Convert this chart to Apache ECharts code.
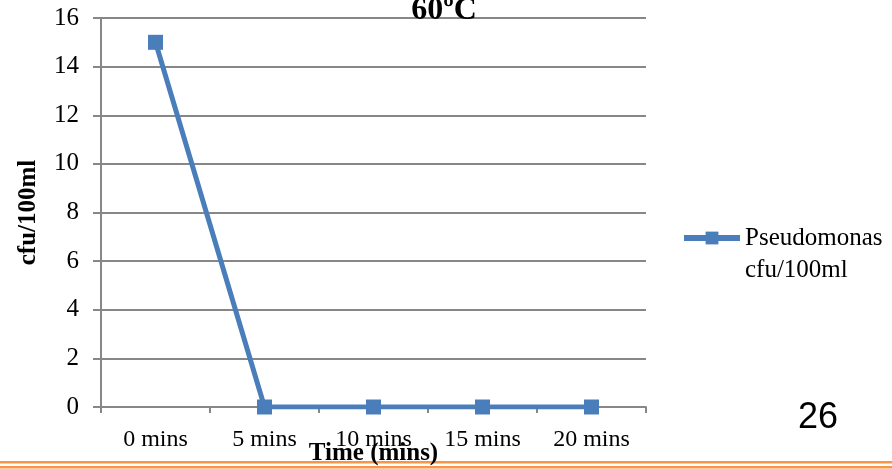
<!DOCTYPE html>
<html>
<head>
<meta charset="utf-8">
<script src="https://cdn.jsdelivr.net/npm/echarts@6/dist/echarts.min.js"></script>
<style>
html,body{margin:0;padding:0;background:#fff;}
#chart{width:892px;height:469px;}
</style>
</head>
<body>
<div id="chart"></div>
<script>
const categories = ["0 mins", "5 mins", "10 mins", "15 mins", "20 mins"];
const pseudomonas = [15, 0, 0, 0, 0];
const yTicks = { min: 0, max: 16, interval: 2 };
const titleText = "60ºC";
const seriesName = "Pseudomonas cfu/100ml";
const legendLines = ["Pseudomonas", "cfu/100ml"];
const pageNumber = "26";

const serif = "'Liberation Serif', 'DejaVu Serif', serif";
const gridColor = "#878787";
const lineColor = "#4a7ebb";
const chart = echarts.init(document.getElementById('chart'), null, { renderer: 'canvas' });
chart.setOption({
  animation: false,
  backgroundColor: '#ffffff',
  title: {
    text: titleText,
    left: 444, top: -5, padding: 0,
    textAlign: 'center',
    textStyle: { fontFamily: serif, fontWeight: 'bold', fontSize: 32, color: '#000' }
  },
  legend: {
    left: 681, top: 190, padding: 0,
    itemWidth: 56, itemHeight: 16, itemGap: 10,
    data: [seriesName],
    lineStyle: { width: 6 },
    formatter: function () { return ' \n' + legendLines.join('\n'); },
    textStyle: { fontFamily: serif, fontSize: 25, color: '#000', lineHeight: 32 }
  },
  grid: { left: 101, right: 246, top: 18, bottom: 62, outerBoundsMode: 'none', containLabel: false },
  xAxis: {
    type: 'category',
    data: categories,
    boundaryGap: true,
    name: 'Time (mins)',
    nameLocation: 'middle',
    nameGap: 34,
    nameMoveOverlap: false,
    nameTextStyle: { fontFamily: serif, fontWeight: 'bold', fontSize: 25, color: '#000' },
    axisLine: { show: true, lineStyle: { color: gridColor, width: 2 } },
    axisTick: { show: true, length: 6, alignWithLabel: false, lineStyle: { color: gridColor, width: 2 } },
    axisLabel: { fontFamily: serif, fontSize: 24, color: '#000', margin: 21, interval: 0 },
    splitLine: { show: false }
  },
  yAxis: {
    type: 'value',
    min: yTicks.min, max: yTicks.max, interval: yTicks.interval,
    name: 'cfu/100ml',
    nameLocation: 'middle',
    nameGap: 60,
    nameMoveOverlap: false,
    nameRotate: 90,
    nameTextStyle: { fontFamily: serif, fontWeight: 'bold', fontSize: 25, color: '#000' },
    axisLine: { show: true, lineStyle: { color: gridColor, width: 2 } },
    axisTick: { show: true, length: 8, lineStyle: { color: gridColor, width: 2 } },
    axisLabel: { fontFamily: serif, fontSize: 25, color: '#000', margin: 22 },
    splitLine: { show: true, lineStyle: { color: gridColor, width: 2 } }
  },
  series: [{
    name: seriesName,
    type: 'line',
    data: pseudomonas,
    symbol: 'rect',
    symbolSize: 15,
    itemStyle: { color: lineColor },
    lineStyle: { color: lineColor, width: 5 }
  }],
  graphic: [
    { type: 'text', left: 798, top: 400, style: { text: pageNumber, fontFamily: "'Liberation Sans', Arial, sans-serif", fontSize: 36, fill: '#000' } },
    { type: 'rect', left: 0, top: 461, shape: { width: 892, height: 2.5 }, style: { fill: '#f79646' } },
    { type: 'rect', left: 0, top: 466, shape: { width: 892, height: 2.5 }, style: { fill: '#f79646' } }
  ]
});
</script>
</body>
</html>
